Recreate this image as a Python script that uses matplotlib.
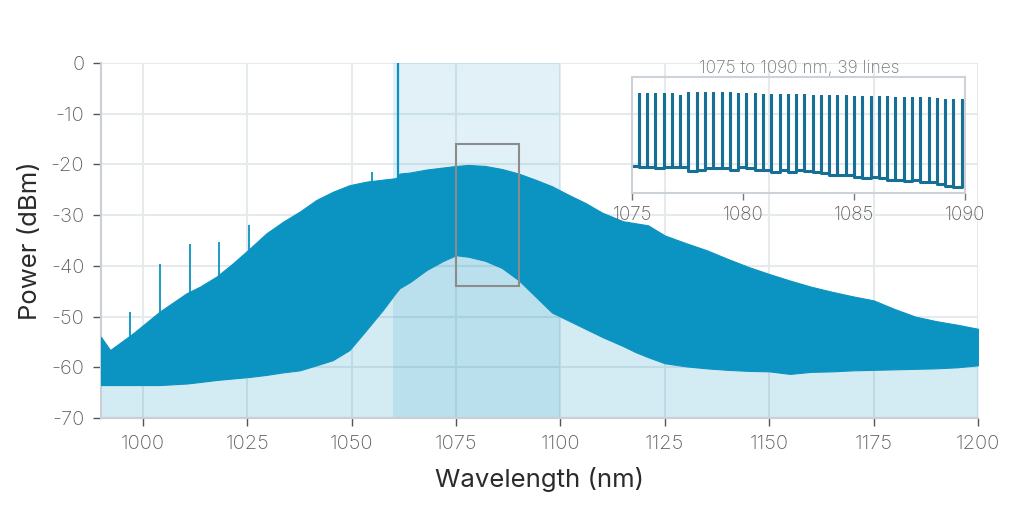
import numpy as np
import matplotlib
matplotlib.use("Agg")
import matplotlib.pyplot as plt
from matplotlib.patches import Rectangle

plt.rcParams['font.family'] = ['Inter', 'DejaVu Sans']
plt.rcParams['axes.unicode_minus'] = False

# envelope of the comb (nm, dBm)
wavelength = [990, 992.2, 997.7, 1004.1, 1010.5, 1013.7, 1017.7, 1021.6, 1025.6, 1029.6,
              1033.6, 1037.6, 1041.6, 1045.5, 1049.5, 1053.5, 1057.5, 1060.7, 1061.5, 1064,
              1068, 1072, 1075, 1078, 1082, 1086, 1090, 1094, 1098, 1102,
              1106, 1110, 1115, 1118, 1121, 1125, 1130, 1135, 1140, 1145,
              1150, 1155, 1160, 1165, 1170, 1175, 1180, 1185, 1190, 1195, 1200]
upper = [-54.0, -56.6, -53.3, -49.0, -45.4, -44.1, -42.1, -39.5, -36.6, -33.6,
         -31.3, -29.3, -27.0, -25.4, -24.1, -23.4, -23.0, -22.7, -21.8, -21.6,
         -21.0, -20.6, -20.3, -20.1, -20.3, -20.9, -21.8, -23.0, -24.3, -26.0,
         -27.6, -29.5, -31.2, -31.6, -32.0, -34.0, -35.5, -36.9, -38.6, -40.2,
         -41.6, -42.9, -44.1, -45.1, -46.0, -46.8, -48.5, -50.0, -50.9, -51.6, -52.4]
lower = [-63.5, -63.5, -63.5, -63.5, -63.2, -62.9, -62.5, -62.2, -61.9, -61.5,
         -61.0, -60.6, -59.6, -58.6, -56.6, -52.7, -48.7, -45.2, -44.4, -43.2,
         -40.8, -39.0, -37.9, -38.2, -39.0, -40.4, -42.8, -46.0, -49.2, -50.8,
         -52.4, -54.0, -55.8, -57.0, -58.0, -59.2, -59.8, -60.2, -60.5, -60.7,
         -60.8, -61.3, -60.9, -60.8, -60.6, -60.5, -60.4, -60.3, -60.2, -60.0, -59.6]

# side peaks and the pump line (bases sit inside the filled comb)
spike_nm = [996.9, 1004.1, 1011.3, 1018.3, 1025.4, 1054.8]
spike_top = [-49.0, -39.6, -35.7, -35.2, -32.0, -21.4]
spike_base = [-58.0, -55.0, -50.0, -46.0, -42.0, -30.0]
pump_nm = 1061.1
pump_top = 0.0
pump_base = -45.0

band = [1060, 1100]
zoom_box = [1075, 1090, -44, -16]

# inset: 1075 to 1090 nm
inset_peaks = [1075.29, 1075.66, 1076.04, 1076.41, 1076.78, 1077.16, 1077.53, 1077.90,
               1078.27, 1078.65, 1079.02, 1079.39, 1079.77, 1080.14, 1080.51, 1080.89,
               1081.26, 1081.63, 1082.00, 1082.38, 1082.75, 1083.12, 1083.50, 1083.87,
               1084.24, 1084.62, 1084.99, 1085.36, 1085.73, 1086.11, 1086.48, 1086.85,
               1087.23, 1087.60, 1087.97, 1088.35, 1088.72, 1089.09, 1089.46, 1089.84]
inset_tops = [-20.2, -20.2, -20.2, -20.2, -20.2, -20.7, -20.0, -19.9, -19.9, -20.0,
              -20.0, -20.0, -20.1, -20.2, -20.2, -20.3, -20.3, -20.3, -20.4, -20.4,
              -20.4, -20.6, -20.6, -20.6, -20.6, -20.6, -20.9, -20.9, -20.9, -20.9,
              -20.9, -21.2, -21.2, -21.2, -21.2, -21.2, -21.4, -21.5, -21.6, -21.6]
inset_valleys = [-37.5, -37.8, -37.8, -38.0, -37.8, -37.8, -37.8, -38.6, -38.3, -38.0,
                 -38.0, -38.0, -38.3, -37.8, -38.0, -38.3, -38.4, -38.8, -38.4, -38.8,
                 -38.5, -38.6, -39.0, -39.2, -39.5, -39.5, -39.6, -40.0, -40.4, -40.2,
                 -40.4, -40.8, -40.8, -41.0, -40.8, -41.2, -41.2, -41.8, -42.2, -42.4, -40.0]

comb_color = '#0b93c1'
inset_color = '#176f95'
grid_color = '#e6eaed'
tick_color = '#5f5f5f'

fig = plt.figure(figsize=(10.24, 5.22), dpi=100)
ax = fig.add_axes([0.0986, 0.1992, 0.8564, 0.6801])

ax.grid(True, color=grid_color, linewidth=1.5, zorder=0)
ax.set_axisbelow(True)
ax.axvspan(band[0], band[1], color=comb_color, alpha=0.12, linewidth=0, zorder=1)
ax.fill_between(wavelength, lower, -70, color=comb_color, alpha=0.18, linewidth=0, zorder=2)
ax.fill_between(wavelength, lower, upper, color=comb_color, linewidth=0.8, edgecolor=comb_color, zorder=3)
ax.vlines(spike_nm, spike_base, spike_top, color=comb_color, linewidth=1.3, zorder=3)
ax.vlines([pump_nm], [pump_base], [pump_top], color=comb_color, linewidth=1.6, zorder=3)
ax.add_patch(Rectangle((zoom_box[0], zoom_box[2]), zoom_box[1] - zoom_box[0], zoom_box[3] - zoom_box[2],
                       fill=False, edgecolor='#8c8c8c', linewidth=1.5, zorder=5))

ax.set_xlim(990, 1200)
ax.set_ylim(-70, 0)
ax.set_xticks(np.arange(1000, 1201, 25))
ax.set_yticks(np.arange(-70, 1, 10))
for side in ['top', 'right']:
    ax.spines[side].set_visible(False)
for side in ['left', 'bottom']:
    ax.spines[side].set_color('#c9cfd4')
    ax.spines[side].set_linewidth(1.5)
ax.tick_params(length=6, width=1, color='#555555', labelcolor=tick_color, labelsize=14.5, pad=6)
for lab in ax.get_xticklabels() + ax.get_yticklabels():
    lab.set_fontweight('light')
ax.set_xlabel('Wavelength (nm)', fontsize=18.5, color='#2b2b2b', labelpad=10)
ax.set_ylabel('Power (dBm)', fontsize=18.5, color='#2b2b2b', labelpad=6)

# inset trace: up and down at each line, flat between lines
xs, ys = [1075.0], [inset_valleys[0]]
for k in range(len(inset_peaks)):
    xs += [inset_peaks[k], inset_peaks[k], inset_peaks[k]]
    ys += [inset_valleys[k], inset_tops[k], inset_valleys[k + 1]]
xs.append(1090.0)
ys.append(inset_valleys[-1])

ins = fig.add_axes([0.6175, 0.6298, 0.3252, 0.2233])
ins.set_facecolor('none')
ins.plot(xs, ys, color=inset_color, linewidth=2.2, solid_joinstyle='round', solid_capstyle='round')
ins.set_xlim(1075, 1090)
ins.set_ylim(zoom_box[2], zoom_box[3])
ins.set_xticks([1075, 1080, 1085, 1090])
ins.set_yticks([])
for side in ins.spines:
    ins.spines[side].set_color('#ccd2d7')
    ins.spines[side].set_linewidth(1.5)
ins.tick_params(axis='x', length=5, width=1, color='#777777', labelcolor=tick_color, labelsize=13.5, pad=4)
for lab in ins.get_xticklabels():
    lab.set_fontweight('light')
ins.set_title('1075 to 1090 nm, 39 lines', fontsize=12.5, color='#767676', pad=3, fontweight='light')

fig.savefig('out.png', dpi=100)
